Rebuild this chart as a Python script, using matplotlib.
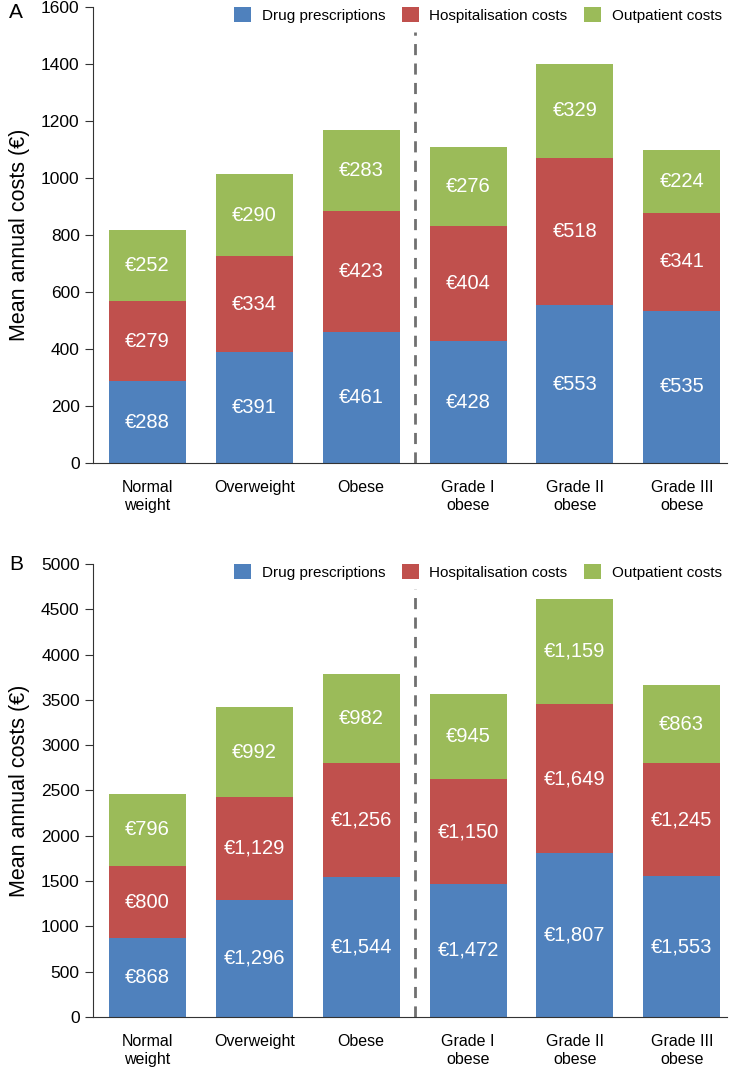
import matplotlib.pyplot as plt
import numpy as np

plt.rcParams['font.family'] = ['Liberation Sans', 'DejaVu Sans']

# categories and values
categories = ["Normal\nweight", "Overweight", "Obese", "Grade I\nobese", "Grade II\nobese", "Grade III\nobese"]
series_names = ["Drug prescriptions", "Hospitalisation costs", "Outpatient costs"]

drug_a = [288, 391, 461, 428, 553, 535]
hosp_a = [279, 334, 423, 404, 518, 341]
outp_a = [252, 290, 283, 276, 329, 224]

drug_b = [868, 1296, 1544, 1472, 1807, 1553]
hosp_b = [800, 1129, 1256, 1150, 1649, 1245]
outp_b = [796, 992, 982, 945, 1159, 863]

colors = ["#4F81BD", "#C0504D", "#9BBB59"]


def draw_panel(ax, data, ymax, ystep):
    x = np.arange(len(categories))
    bottom = np.zeros(len(categories))
    for vals, col, name in zip(data, colors, series_names):
        vals = np.array(vals, dtype=float)
        ax.bar(x, vals, bottom=bottom, width=0.72, color=col, label=name)
        for xi, b, v in zip(x, bottom, vals):
            ax.text(xi, b + v / 2, f"€{v:,.0f}", ha="center", va="center",
                    color="white", fontsize=14.5)
        bottom += vals
    # dashed divider between BMI groups and obesity grades
    ax.axvline(2.5, ymin=0, ymax=0.945, color="#707070", linestyle=(0, (4, 3)), linewidth=2)
    ax.set_xlim(-0.51, 5.42)
    ax.set_ylim(0, ymax)
    ax.set_yticks(np.arange(0, ymax + 1, ystep))
    ax.set_xticks(x)
    ax.set_xticklabels(categories, fontsize=11.5, linespacing=1.3)
    ax.tick_params(axis="y", labelsize=12.5, length=6, color="#333333")
    ax.tick_params(axis="x", length=0, pad=12)
    ax.spines["top"].set_visible(False)
    ax.spines["right"].set_visible(False)
    ax.spines["left"].set_color("#333333")
    ax.spines["bottom"].set_color("#333333")
    ax.set_ylabel("Mean annual costs (€)", fontsize=15.5, labelpad=8)
    ax.legend(loc="upper right", bbox_to_anchor=(1.014, 1.03), ncol=3, frameon=False,
              fontsize=11, handlelength=1.1, handleheight=1.1, handletextpad=0.7,
              columnspacing=1.1)


fig = plt.figure(figsize=(7.37, 10.67), dpi=100)
ax_a = fig.add_axes([0.126, 0.566, 0.86, 0.4274])
ax_b = fig.add_axes([0.126, 0.0469, 0.86, 0.4245])

draw_panel(ax_a, [drug_a, hosp_a, outp_a], 1600, 200)
draw_panel(ax_b, [drug_b, hosp_b, outp_b], 5000, 500)

fig.text(0.012, 1 - 13 / 1067, "A", fontsize=15, va="center", ha="left")
fig.text(0.012, 1 - 564 / 1067, "B", fontsize=15, va="center", ha="left")

fig.savefig("out.png", dpi=100)
